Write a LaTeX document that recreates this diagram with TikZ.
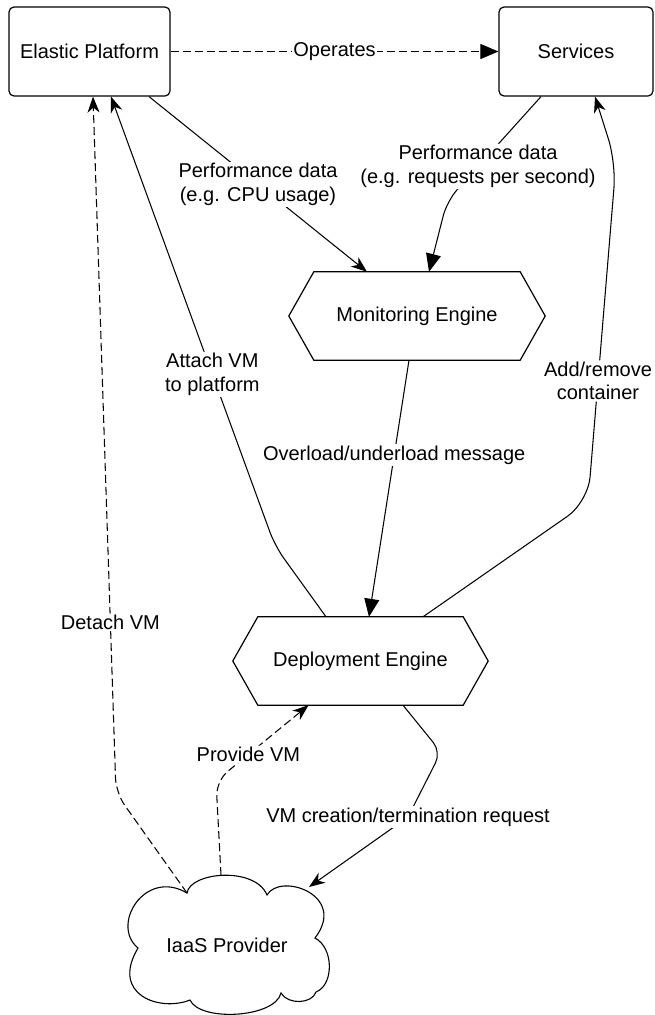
\documentclass[tikz,border=0pt]{standalone}
\usepackage{fontspec}
\setmainfont{Liberation Sans}
\usetikzlibrary{arrows.meta}

\tikzset{
  txt/.style={font=\fontsize{20}{23.5}\selectfont},
  lbl/.style={txt, fill=white, inner sep=1.5pt, align=center},
  box/.style={txt, draw, line width=1.2pt, rounded corners=5pt},
  hexnode/.style={txt, inner sep=0pt},
  shapeline/.style={line width=1.2pt, line join=miter},
  conn/.style={line width=1.05pt},
  dashconn/.style={line width=1.05pt, dash pattern=on 8pt off 4pt},
  tri/.style={-{Triangle[length=18pt, width=15pt]}},
  stl/.style={-{Stealth[length=16pt, width=12pt, inset=5pt]}},
}

\begin{document}
\begin{tikzpicture}[x=1pt, y=-1pt]
\useasboundingbox (0,0) rectangle (655,1015);

% nodes
\node[box, minimum width=161pt, minimum height=89pt] (EP) at (89.5,51.5) {Elastic Platform};
\node[box, minimum width=154pt, minimum height=89pt] (SV) at (576,51.5) {Services};
\node[hexnode, minimum width=256pt, minimum height=88pt] (ME) at (417,316) {Monitoring Engine};
\node[hexnode, minimum width=255pt, minimum height=88pt] (DE) at (360.5,661) {Deployment Engine};
\node[hexnode] (CL) at (227,945) {IaaS Provider};

% hexagon outlines
\foreach \n in {ME,DE} {
  \draw[shapeline] (\n.west) -- ([xshift=25pt]\n.north west) -- ([xshift=-25pt]\n.north east)
    -- (\n.east) -- ([xshift=-25pt]\n.south east) -- ([xshift=25pt]\n.south west) -- cycle;
}

% cloud outline
\draw[shapeline, line width=1.1pt]
  (187,893) .. controls (190,872) and (255,866) .. (267,895)
  .. controls (280,872) and (348,895) .. (315,938)
  .. controls (334,948) and (334,985) .. (316,992)
  .. controls (312,1004) and (288,1005) .. (281,993)
  .. controls (275,1018) and (200,1022) .. (190,1000)
  .. controls (160,1012) and (110,995) .. (138,948)
  .. controls (110,925) and (145,868) .. (187,893) -- cycle;

% points on the cloud outline where connectors meet it
\coordinate (CLtl) at (187,893);
\coordinate (CLtop) at (221,875);
\coordinate (CLtr) at (309,887);

% bend points
\coordinate (b1) at (447,201);
\coordinate (b2) at (275,546);
\coordinate (b3) at (588,502);
\coordinate (b4) at (616,163);
\coordinate (b5) at (116,793);
\coordinate (b6) at (216,781);
\coordinate (b7) at (441,752);
\coordinate (b8) at (408,817);

% connectors
\draw[dashconn, tri] (EP.east) -- node[lbl] {Operates} (SV.west);

\draw[conn, stl] ([xshift=59.5pt]EP.south) -- node[lbl] {Performance data\\(e.g. CPU usage)} ([xshift=-50pt]ME.north);

\draw[conn, tri, rounded corners=15pt] ([xshift=-35pt]SV.south)
  -- node[lbl, pos=0.67] {Performance data\\(e.g. requests per second)} (b1)
  -- ([xshift=12pt]ME.north);

\draw[conn, tri] ([xshift=-8pt]ME.south) -- node[lbl, pos=0.37] {Overload/underload message} ([xshift=8.5pt]DE.north);

\draw[conn, stl, rounded corners=15pt] ([xshift=-34.5pt]DE.north) -- (b2)
  -- node[lbl, pos=0.382] {Attach VM\\to platform} ([xshift=21.5pt]EP.south);

\draw[conn, stl, rounded corners=25pt] ([xshift=62.5pt]DE.north) -- (b3)
  -- node[lbl, pos=0.357] {Add/remove\\container} (b4)
  -- ([xshift=19pt]SV.south);

\draw[dashconn, stl, rounded corners=15pt] (CLtl) -- (b5)
  -- node[lbl, pos=0.245] {Detach VM} ([xshift=3.5pt]EP.south);

\draw[dashconn, stl, rounded corners=15pt] (CLtop) -- (b6)
  -- node[lbl, pos=0.35] {Provide VM} ([xshift=-52pt]DE.south);

\draw[conn, stl, rounded corners=12pt] ([xshift=42.5pt]DE.south) -- (b7) -- (b8)
  node[lbl] {VM creation/termination request} -- (CLtr);

\end{tikzpicture}
\end{document}
